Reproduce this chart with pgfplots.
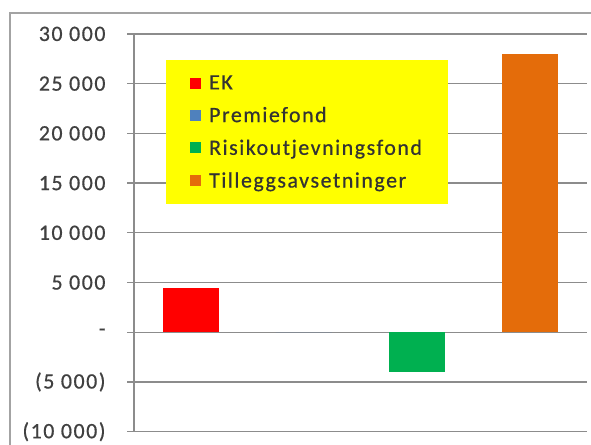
\documentclass[border=0pt]{standalone}
\usepackage{pgfplots}
\pgfplotsset{compat=1.18}
\usepackage{fontspec}
\setmainfont{Carlito}
\newfontfamily\chartfont[LetterSpace=7,FakeBold=0.6]{Carlito}
\definecolor{ekred}{HTML}{FF0000}
\definecolor{pfblue}{HTML}{4F81BD}
\definecolor{rfgreen}{HTML}{00B050}
\definecolor{taorange}{HTML}{E46C0A}
\definecolor{gridgray}{HTML}{8C8C8C}
\definecolor{labgray}{HTML}{404040}
\definecolor{legyellow}{HTML}{FFFF00}

\begin{document}
\begin{tikzpicture}[x=1bp,y=1bp]
\path[use as bounding box] (0,0) rectangle (591,-445);
% chart area frame
\draw[gridgray!80, line width=1.2bp] (10,-470) -- (10,-13) -- (620,-13);
\begin{axis}[
  at={(134bp,-431.7bp)}, anchor=south west,
  scale only axis, width=453bp, height=397.8bp,
  xmin=-0.5, xmax=3.5, ymin=-10000, ymax=30000,
  axis x line=none, axis y line*=left,
  scaled y ticks=false,
  ytick={-10000,-5000,...,30000},
  yticklabels={(10 000),(5 000),-,5 000,10 000,15 000,20 000,25 000,30 000},
  ymajorgrids, grid style={gridgray, line width=1.3bp},
  y axis line style={gridgray, line width=1.3bp, -},
  major tick length=7bp, tick align=outside,
  y tick style={gridgray, line width=1.3bp},
  yticklabel style={font=\chartfont\fontsize{22}{25}\selectfont, text=labgray,
    xshift=-18bp},
  legend image code/.code={\fill[#1] (8bp,-5.5bp) rectangle (19bp,5.5bp);
    \path (25bp,0bp);},
  legend cell align=left,
  legend style={at={(rel axis cs:0.0706,0.934)}, anchor=north west,
    fill=legyellow, draw=none, font=\chartfont\fontsize{22}{25}\selectfont,
    text=black!80, inner xsep=24bp, inner ysep=13bp, row sep=12bp},
]
\addplot[ybar, bar width=56bp, bar shift=0pt, fill=ekred, draw=none]
  coordinates {(0,4400)};
\addlegendentry{EK}
\addplot[ybar, bar width=56bp, bar shift=0pt, fill=pfblue, draw=none]
  coordinates {(1,0)};
\addlegendentry{Premiefond}
\addplot[ybar, bar width=56bp, bar shift=0pt, fill=rfgreen, draw=none]
  coordinates {(2,-4000)};
\addlegendentry{Risikoutjevningsfond}
\addplot[ybar, bar width=56bp, bar shift=0pt, fill=taorange, draw=none]
  coordinates {(3,28000)};
\addlegendentry{Tilleggsavsetninger}
\end{axis}
\end{tikzpicture}
\end{document}
